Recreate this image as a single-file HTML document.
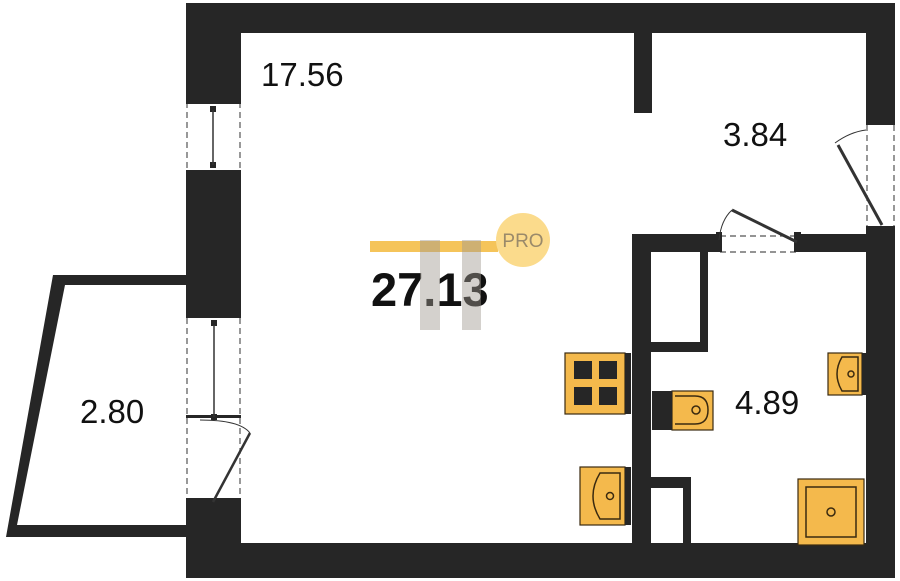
<!DOCTYPE html>
<html><head><meta charset="utf-8"><style>
html,body{margin:0;padding:0;background:#fff;}
svg{display:block;}
text{font-family:"Liberation Sans",sans-serif;}
</style></head><body>
<svg width="900" height="581" viewBox="0 0 900 581" xmlns="http://www.w3.org/2000/svg">
<rect width="900" height="581" fill="#fff"/>
<g fill="#262626">
<rect x="186" y="3" width="709" height="30"/>
<rect x="186" y="3" width="55" height="97"/>
<rect x="186" y="173" width="55" height="142"/>
<rect x="186" y="502" width="55" height="76"/>
<rect x="186" y="543" width="709" height="35"/>
<rect x="866" y="3" width="29" height="120"/>
<rect x="866" y="229" width="29" height="349"/>
<rect x="634" y="30" width="18" height="83"/>
<rect x="632" y="234" width="88" height="18"/>
<rect x="800" y="234" width="68" height="18"/>
<rect x="632" y="234" width="19" height="312"/>
<rect x="650" y="342" width="58" height="10"/>
<rect x="700" y="250" width="8" height="102"/>
<rect x="650" y="477" width="41" height="11"/>
<rect x="683" y="477" width="8" height="70"/>
<polygon points="53,275 188,275 188,285 65,285 17,525 188,525 188,537 6,537"/>
</g>
<g stroke="#555" stroke-width="1.2" fill="none" stroke-dasharray="6,4">
<line x1="187" y1="102" x2="187" y2="172"/><line x1="240" y1="102" x2="240" y2="172"/>
<line x1="187" y1="318" x2="187" y2="500"/><line x1="240" y1="318" x2="240" y2="500"/>
<line x1="867" y1="125" x2="867" y2="228"/><line x1="894" y1="125" x2="894" y2="228"/>
<line x1="720" y1="236" x2="800" y2="236"/><line x1="720" y1="252" x2="800" y2="252"/>
</g>
<g fill="#262626">
<rect x="186" y="100" width="55" height="4"/><rect x="186" y="170" width="55" height="4"/>
<rect x="186" y="313" width="55" height="5"/><rect x="186" y="498" width="55" height="5"/>
<rect x="186" y="415" width="55" height="3"/>
<rect x="210" y="106" width="6" height="6"/><rect x="210" y="162" width="6" height="6"/>
<rect x="211" y="320" width="6" height="6"/><rect x="211" y="414" width="6" height="6"/>
<rect x="866" y="121" width="29" height="4"/><rect x="866" y="226" width="29" height="4"/>
<rect x="716" y="232" width="6" height="20"/><rect x="794" y="232" width="7" height="20"/>
</g>
<g stroke="#333" fill="none">
<line x1="213" y1="110" x2="213" y2="165" stroke-width="1.5"/>
<line x1="214" y1="325" x2="214" y2="417" stroke-width="1.5"/>
<line x1="213" y1="502" x2="250" y2="433" stroke-width="2.5"/>
<path d="M200 420 Q240 420 250 433" stroke-width="1"/>
<line x1="838" y1="145" x2="882" y2="225" stroke-width="3"/>
<path d="M835 143 Q850 132 866 130" stroke-width="1"/>
<line x1="732" y1="210" x2="797" y2="242" stroke-width="3"/>
<path d="M719 240 Q721 220 732 210" stroke-width="1"/>
</g>
<g stroke="#3a2a10" stroke-width="1.2" fill="#f4b94c">
<rect x="565" y="353" width="60" height="61"/>
<rect x="580" y="467" width="45" height="58"/>
<rect x="672" y="391" width="41" height="39"/>
<rect x="828" y="353" width="34" height="42"/>
<rect x="798" y="479" width="66" height="66"/>
</g>
<g fill="#262626">
<rect x="625" y="353" width="6" height="61"/><rect x="625" y="467" width="6" height="58"/>
<rect x="652" y="391" width="20" height="39"/><rect x="862" y="353" width="5" height="42"/>
<rect x="574" y="361" width="18" height="18"/><rect x="599" y="361" width="18" height="18"/>
<rect x="574" y="387" width="18" height="18"/><rect x="599" y="387" width="18" height="18"/>
</g>
<g stroke="#3a2a10" stroke-width="1.5" fill="none">
<path d="M620 473 L600 473 Q586 496 600 519 L620 519 Z"/>
<circle cx="610" cy="496" r="3.5"/>
<path d="M675 396 L695 396 Q708 396 708 410 Q708 424 695 424 L675 424"/>
<circle cx="696" cy="410" r="4"/>
<path d="M858 357 L842 357 Q832 374 842 391 L858 391 Z"/>
<circle cx="851" cy="374" r="3"/>
<rect x="806" y="487" width="50" height="50"/>
<circle cx="831" cy="512" r="4"/>
</g>
<rect x="370" y="241" width="128" height="11" fill="#f5c45a"/>
<circle cx="523" cy="240" r="27" fill="#fbdb8c"/>
<text x="523" y="247" font-size="19" fill="#9a8a6a" text-anchor="middle">PRO</text>
<text x="371" y="306" font-size="47" font-weight="bold" fill="#111">27.13</text>
<rect x="420" y="240" width="20" height="90" fill="#a09a90" opacity="0.45"/>
<rect x="462" y="240" width="19" height="90" fill="#a09a90" opacity="0.45"/>
<text x="261" y="86" font-size="33" fill="#111">17.56</text>
<text x="723" y="146" font-size="33" fill="#111">3.84</text>
<text x="80" y="423" font-size="33" fill="#111">2.80</text>
<text x="735" y="414" font-size="33" fill="#111">4.89</text>
</svg>
</body></html>
